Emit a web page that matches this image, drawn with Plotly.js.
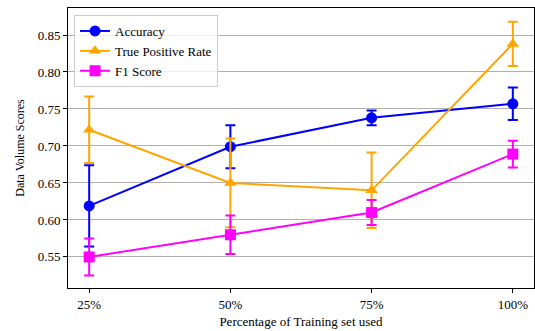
<!DOCTYPE html>
<html>
<head>
<meta charset="utf-8">
<script src="https://cdn.plot.ly/plotly-3.0.1.min.js"></script>
<style>
  html, body { margin: 0; padding: 0; background: #fff; }
  #chart { width: 535px; height: 331px; }
</style>
</head>
<body>
<div id="chart"></div>
<script>
// Share of the training set used for each run
const categories = ["25%", "50%", "75%", "100%"];

// Mean scores and their standard deviations
const accuracy = [0.619, 0.699, 0.738, 0.757];
const accuracyErr = [0.055, 0.029, 0.010, 0.022];

const tpr = [0.722, 0.650, 0.640, 0.838];
const tprErr = [0.045, 0.060, 0.051, 0.030];

const f1 = [0.550, 0.580, 0.610, 0.689];
const f1Err = [0.025, 0.026, 0.017, 0.018];

const seriesNames = ["Accuracy", "True Positive Rate", "F1 Score"];

function series(name, y, err, color, symbol) {
  return {
    type: "scatter",
    mode: "lines+markers",
    name: name,
    x: categories,
    y: y,
    line: { color: color, width: 2 },
    marker: { color: color, symbol: symbol, size: 11 },
    error_y: { type: "data", array: err, visible: true, color: color, thickness: 2, width: 5 }
  };
}

const traces = [
  series(seriesNames[0], accuracy, accuracyErr, "#0000ff", "circle"),
  series(seriesNames[1], tpr, tprErr, "#ffa500", "triangle-up"),
  series(seriesNames[2], f1, f1Err, "#ff00ff", "square")
];

const serif = "Liberation Serif, Times New Roman, serif";

const layout = {
  width: 535,
  height: 331,
  margin: { l: 68, r: 1, t: 8, b: 43 },
  paper_bgcolor: "#fff",
  plot_bgcolor: "#fff",
  font: { family: serif, size: 13, color: "#000" },
  showlegend: true,
  legend: {
    x: 0.013, y: 0.975, xanchor: "left", yanchor: "top",
    bgcolor: "rgba(255,255,255,0.8)",
    bordercolor: "#cccccc", borderwidth: 1,
    font: { family: serif, size: 13 },
    tracegroupgap: 0
  },
  xaxis: {
    type: "category",
    range: [-0.15, 3.15],
    showgrid: false,
    zeroline: false,
    showline: true, mirror: true, linecolor: "#000", linewidth: 1,
    ticks: "outside", ticklen: 4, tickcolor: "#000",
    tickfont: { family: serif, size: 13 },
    title: { text: "Percentage of Training set used", font: { family: serif, size: 13 }, standoff: 6 }
  },
  yaxis: {
    range: [0.508, 0.8865],
    dtick: 0.05,
    tick0: 0.55,
    tickformat: ".2f",
    showgrid: true, gridcolor: "#b0b0b0", gridwidth: 1,
    zeroline: false,
    showline: true, mirror: true, linecolor: "#000", linewidth: 1,
    ticks: "outside", ticklen: 4, tickcolor: "#000",
    tickfont: { family: serif, size: 13 },
    title: { text: "Data Volume Scores", font: { family: serif, size: 12 }, standoff: 10 }
  }
};

Plotly.newPlot("chart", traces, layout, { displayModeBar: false, staticPlot: true });
</script>
</body>
</html>
